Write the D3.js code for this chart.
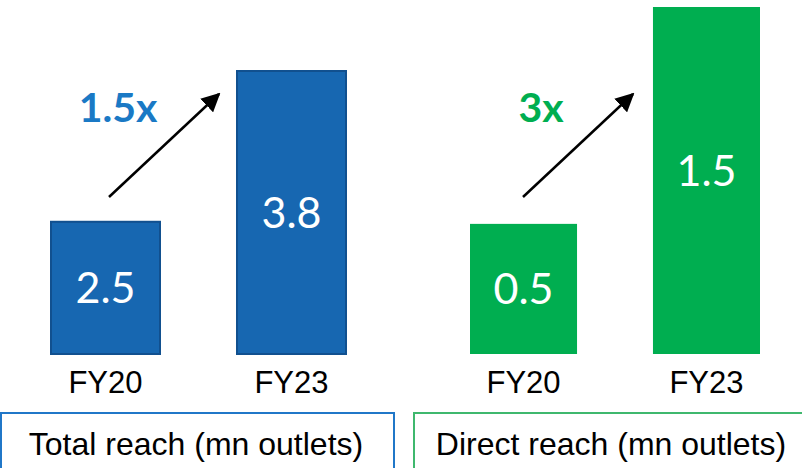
<!DOCTYPE html>
<html>
<head>
<meta charset="utf-8">
<script src="https://cdn.jsdelivr.net/npm/d3@7"></script>
<style>
  body { margin: 0; background: #fff; }
  svg { display: block; }
</style>
</head>
<body>
<svg width="802" height="468"></svg>
<script>
// data
var years = ["FY20", "FY23"];
var totalReach = [2.5, 3.8];
var directReach = [0.5, 1.5];
var growthLabels = ["1.5x", "3x"];
var panelTitles = ["Total reach (mn outlets)", "Direct reach (mn outlets)"];

var svg = d3.select("svg");

var defs = svg.append("defs");
defs.append("marker")
    .attr("id", "arrowhead")
    .attr("viewBox", "0 0 10 10")
    .attr("refX", 9).attr("refY", 5)
    .attr("markerWidth", 7.5).attr("markerHeight", 7.5)
    .attr("markerUnits", "strokeWidth")
    .attr("orient", "auto")
    .append("path")
    .attr("d", "M0,0 L10,5 L0,10 z")
    .attr("fill", "#000");

var baseline = 354;

// each panel: its own x band and y scale (the source bars are not on a zero base)
var panels = [
    {
        values: totalReach,
        x: d3.scaleBand().domain(years).range([51, 346]).paddingInner(0.414).paddingOuter(0),
        y: d3.scaleLinear().domain([1.36, 3.8]).range([baseline, 71]),
        fill: "#1767b1", stroke: "#11508f", strokeW: 2,
        accent: "#1a79c5", boxStroke: "#2077c8",
        box: [1, 413, 393, 80], growthX: 118, titleX: 196,
        arrowFrom: [109, 197], arrowTo: [219, 94], labelShift: [15, 15]
    },
    {
        values: directReach,
        x: d3.scaleBand().domain(years).range([470, 760]).paddingInner(0.415).paddingOuter(0),
        y: d3.scaleLinear().domain([-0.1, 1.5]).range([baseline, 7]),
        fill: "#00ae50", stroke: "none", strokeW: 0,
        accent: "#00ae50", boxStroke: "#3fb86e",
        box: [414, 413, 400, 80], growthX: 541, titleX: 611,
        arrowFrom: [523, 197], arrowTo: [633, 94], labelShift: [15, 5]
    }
];

panels.forEach(function (p, pi) {
    var g = svg.append("g");

    g.selectAll("rect.bar")
        .data(p.values)
        .enter()
        .append("rect")
        .attr("class", "bar")
        .attr("x", function (d, i) { return p.x(years[i]); })
        .attr("width", p.x.bandwidth())
        .attr("y", function (d) { return p.y(d); })
        .attr("height", function (d) { return baseline - p.y(d); })
        .attr("fill", p.fill)
        .attr("stroke", p.stroke)
        .attr("stroke-width", p.strokeW);

    // values inside bars
    g.selectAll("text.val")
        .data(p.values)
        .enter()
        .append("text")
        .attr("class", "val")
        .attr("x", function (d, i) { return p.x(years[i]) + p.x.bandwidth() / 2; })
        .attr("y", function (d, i) { return (p.y(d) + baseline) / 2 + p.labelShift[i]; })
        .attr("text-anchor", "middle")
        .attr("fill", "#fff")
        .style("font-family", "Lato, 'Open Sans', sans-serif")
        .style("font-size", "43px")
        .text(function (d) { return d.toFixed(1); });

    // category labels
    g.selectAll("text.cat")
        .data(years)
        .enter()
        .append("text")
        .attr("class", "cat")
        .attr("x", function (d) { return p.x(d) + p.x.bandwidth() / 2; })
        .attr("y", 393)
        .attr("text-anchor", "middle")
        .attr("fill", "#000")
        .style("font-family", "Arial, 'Liberation Sans', sans-serif")
        .style("font-size", "31px")
        .text(function (d) { return d; });

    // growth arrow + label
    g.append("line")
        .attr("x1", p.arrowFrom[0]).attr("y1", p.arrowFrom[1])
        .attr("x2", p.arrowTo[0]).attr("y2", p.arrowTo[1])
        .attr("stroke", "#000")
        .attr("stroke-width", 2.5)
        .attr("marker-end", "url(#arrowhead)");

    g.append("text")
        .attr("x", p.growthX)
        .attr("y", 122)
        .attr("text-anchor", "middle")
        .attr("fill", p.accent)
        .style("font-family", "Lato, 'Open Sans', sans-serif")
        .style("font-weight", "bold")
        .style("font-size", "41px")
        .text(growthLabels[pi]);

    // title box at the bottom
    g.append("rect")
        .attr("x", p.box[0]).attr("y", p.box[1])
        .attr("width", p.box[2]).attr("height", p.box[3])
        .attr("fill", "none")
        .attr("stroke", p.boxStroke)
        .attr("stroke-width", 2);

    g.append("text")
        .attr("x", p.titleX)
        .attr("y", 455)
        .attr("text-anchor", "middle")
        .attr("fill", "#000")
        .style("font-family", "Arial, 'Liberation Sans', sans-serif")
        .style("font-size", "32px")
        .text(panelTitles[pi]);
});
</script>
</body>
</html>
